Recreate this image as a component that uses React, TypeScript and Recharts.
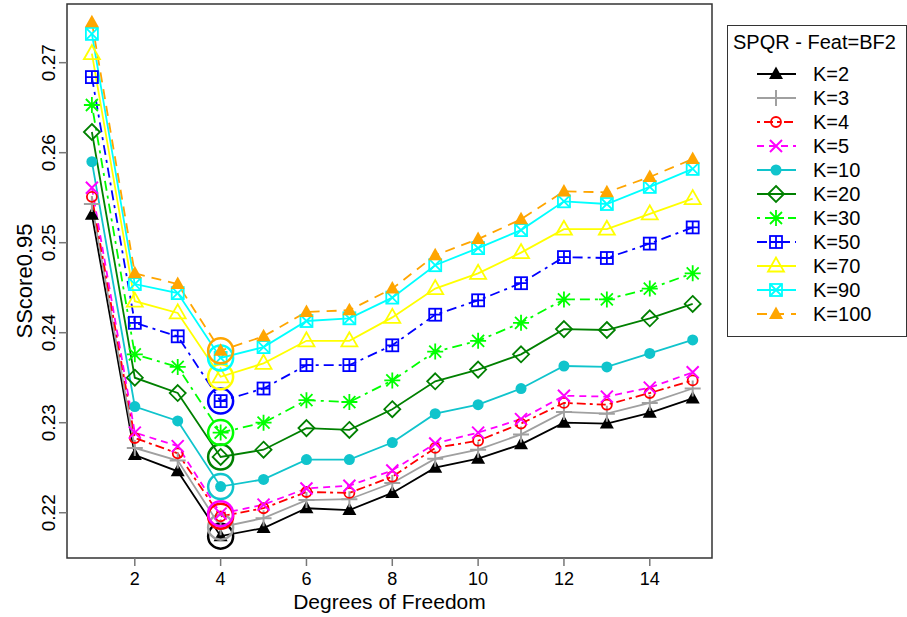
import { LineChart, Line, XAxis, YAxis, Legend, ReferenceArea } from "recharts";

const degrees = [1, 2, 3, 4, 5, 6, 7, 8, 9, 10, 11, 12, 13, 14, 15];

const k2 = [0.2531, 0.2264, 0.2246, 0.2174, 0.2183, 0.2205, 0.2203, 0.2222, 0.225, 0.226, 0.2276, 0.23, 0.2299, 0.2311, 0.2327];
const k3 = [0.2543, 0.2272, 0.2258, 0.2184, 0.2194, 0.2214, 0.2215, 0.2233, 0.226, 0.227, 0.2287, 0.2312, 0.231, 0.2322, 0.2338];
const k4 = [0.2551, 0.2283, 0.2266, 0.2196, 0.2205, 0.2223, 0.2222, 0.224, 0.2272, 0.228, 0.2299, 0.2322, 0.232, 0.2333, 0.2347];
const k5 = [0.2561, 0.2289, 0.2274, 0.2199, 0.2209, 0.2227, 0.223, 0.2247, 0.2277, 0.2289, 0.2304, 0.233, 0.2329, 0.2339, 0.2356];
const k10 = [0.259, 0.2318, 0.2302, 0.2229, 0.2237, 0.2259, 0.2259, 0.2278, 0.231, 0.232, 0.2338, 0.2363, 0.2362, 0.2377, 0.2392];
const k20 = [0.2623, 0.235, 0.2333, 0.2262, 0.227, 0.2294, 0.2292, 0.2315, 0.2346, 0.2359, 0.2376, 0.2404, 0.2403, 0.2416, 0.2432];
const k30 = [0.2653, 0.2376, 0.2362, 0.2289, 0.23, 0.2325, 0.2323, 0.2347, 0.2379, 0.2391, 0.2411, 0.2437, 0.2437, 0.2449, 0.2466];
const k50 = [0.2684, 0.2411, 0.2396, 0.2324, 0.2338, 0.2364, 0.2364, 0.2386, 0.242, 0.2436, 0.2455, 0.2484, 0.2483, 0.2499, 0.2517];
const k70 = [0.271, 0.2435, 0.2422, 0.2351, 0.2366, 0.2391, 0.2391, 0.2417, 0.2449, 0.2466, 0.2489, 0.2515, 0.2515, 0.2532, 0.2549];
const k90 = [0.2732, 0.2454, 0.2444, 0.2372, 0.2384, 0.2413, 0.2416, 0.2439, 0.2475, 0.2494, 0.2514, 0.2546, 0.2543, 0.2562, 0.2582];
const k100 = [0.2745, 0.2466, 0.2454, 0.238, 0.2396, 0.2423, 0.2425, 0.2449, 0.2486, 0.2504, 0.2526, 0.2557, 0.2556, 0.2573, 0.2593];

const seriesNames = ["K=2", "K=3", "K=4", "K=5", "K=10", "K=20", "K=30", "K=50", "K=70", "K=90", "K=100"];
const seriesValues = [k2, k3, k4, k5, k10, k20, k30, k50, k70, k90, k100];

const xTicks = [2, 4, 6, 8, 10, 12, 14];
const yTicks = [0.22, 0.23, 0.24, 0.25, 0.26, 0.27];
const xDomain: [number, number] = [0.42, 15.45];
const yDomain: [number, number] = [0.21497, 0.27652];

const legendTitle = "SPQR - Feat=BF2";
const FONT = "'Liberation Sans', Arial, sans-serif";

type Shape =
  | "triFilled"
  | "plus"
  | "circleOpen"
  | "cross"
  | "circleFilled"
  | "diamondOpen"
  | "asterisk"
  | "boxPlus"
  | "triOpen"
  | "boxTimes";

const seriesStyles: { color: string; dash?: string; shape: Shape }[] = [
  { color: "#000000", shape: "triFilled" },
  { color: "#a0a0a0", shape: "plus" },
  { color: "#ff0000", dash: "3 4 9 4", shape: "circleOpen" },
  { color: "#ff00ff", dash: "7 5", shape: "cross" },
  { color: "#10c4cc", shape: "circleFilled" },
  { color: "#008000", shape: "diamondOpen" },
  { color: "#00ff00", dash: "3 5 10 5", shape: "asterisk" },
  { color: "#0000ff", dash: "10 5 3 5", shape: "boxPlus" },
  { color: "#ffff00", shape: "triOpen" },
  { color: "#00ffff", shape: "boxTimes" },
  { color: "#ffa500", dash: "10 7", shape: "triFilled" },
];

const data = degrees.map((d, i) => {
  const row: Record<string, number> = { dof: d };
  seriesNames.forEach((name, j) => {
    row[name] = seriesValues[j][i];
  });
  return row;
});

const Marker = ({ shape, cx, cy, color }: { shape: Shape; cx: number; cy: number; color: string }) => {
  const sw = 1.8;
  switch (shape) {
    case "triFilled":
      return <polygon points={`${cx},${cy - 7.5} ${cx - 7},${cy + 5} ${cx + 7},${cy + 5}`} fill={color} />;
    case "triOpen":
      return (
        <polygon
          points={`${cx},${cy - 8.5} ${cx - 8},${cy + 5.5} ${cx + 8},${cy + 5.5}`}
          fill="none"
          stroke={color}
          strokeWidth={sw}
        />
      );
    case "plus":
      return <path d={`M${cx - 8},${cy}H${cx + 8}M${cx},${cy - 8}V${cy + 8}`} stroke={color} strokeWidth={2} />;
    case "cross":
      return (
        <path
          d={`M${cx - 6},${cy - 6}L${cx + 6},${cy + 6}M${cx - 6},${cy + 6}L${cx + 6},${cy - 6}`}
          stroke={color}
          strokeWidth={2}
        />
      );
    case "circleOpen":
      return <circle cx={cx} cy={cy} r={5} fill="none" stroke={color} strokeWidth={sw} />;
    case "circleFilled":
      return <circle cx={cx} cy={cy} r={5.5} fill={color} />;
    case "diamondOpen":
      return (
        <polygon
          points={`${cx},${cy - 8} ${cx + 8},${cy} ${cx},${cy + 8} ${cx - 8},${cy}`}
          fill="none"
          stroke={color}
          strokeWidth={sw}
        />
      );
    case "asterisk":
      return (
        <path
          d={`M${cx - 8},${cy}H${cx + 8}M${cx},${cy - 8}V${cy + 8}M${cx - 6},${cy - 6}L${cx + 6},${cy + 6}M${cx - 6},${cy + 6}L${cx + 6},${cy - 6}`}
          stroke={color}
          strokeWidth={1.8}
        />
      );
    case "boxPlus":
      return (
        <g stroke={color} strokeWidth={sw} fill="none">
          <rect x={cx - 6} y={cy - 6} width={12} height={12} />
          <path d={`M${cx - 6},${cy}H${cx + 6}M${cx},${cy - 6}V${cy + 6}`} />
        </g>
      );
    case "boxTimes":
      return (
        <g stroke={color} strokeWidth={sw} fill="none">
          <rect x={cx - 6} y={cy - 6} width={12} height={12} />
          <path d={`M${cx - 6},${cy - 6}L${cx + 6},${cy + 6}M${cx - 6},${cy + 6}L${cx + 6},${cy - 6}`} />
        </g>
      );
  }
  return null;
};

// each curve gets a large ring around its lowest point
const makeDot = (seriesIdx: number) => {
  const values = seriesValues[seriesIdx];
  const minIdx = values.indexOf(Math.min(...values));
  const { color, shape } = seriesStyles[seriesIdx];
  return (p: any) => {
    if (p.cx == null || p.cy == null) return <g key={`${seriesIdx}-${p.index}`} />;
    return (
      <g key={`${seriesIdx}-${p.index}`}>
        <Marker shape={shape} cx={p.cx} cy={p.cy} color={color} />
        {p.index === minIdx && <circle cx={p.cx} cy={p.cy} r={12.5} fill="none" stroke={color} strokeWidth={2.5} />}
      </g>
    );
  };
};

const XTick = ({ x, y, payload }: any) => (
  <text x={x} y={y + 17} textAnchor="middle" fontSize={18} fontFamily={FONT} fill="#000">
    {payload.value}
  </text>
);

const YTick = ({ x, y, payload }: any) => (
  <text
    x={x - 2}
    y={y}
    transform={`rotate(-90, ${x - 2}, ${y})`}
    textAnchor="middle"
    fontSize={19}
    fontFamily={FONT}
    fill="#000"
  >
    {Number(payload.value).toFixed(2)}
  </text>
);

const YTitle = ({ viewBox }: any) => {
  const x = viewBox.x + 25;
  const y = viewBox.y + viewBox.height / 2;
  return (
    <text x={x} y={y} transform={`rotate(-90, ${x}, ${y})`} textAnchor="middle" fontSize={22} fontFamily={FONT} fill="#000">
      SScore0.95
    </text>
  );
};

const XTitle = ({ viewBox }: any) => (
  <text
    x={viewBox.x + viewBox.width / 2}
    y={viewBox.y + 51}
    textAnchor="middle"
    fontSize={21}
    fontFamily={FONT}
    fill="#000"
  >
    Degrees of Freedom
  </text>
);

const LegendBox = () => (
  <div style={{ width: 180, height: 312, border: "1px solid #333", boxSizing: "border-box", background: "#fff" }}>
    <svg width={178} height={310}>
      <text x={5} y={23} fontSize={20} fontFamily={FONT} fill="#000">
        {legendTitle}
      </text>
      {seriesNames.map((name, i) => {
        const cy = 48 + i * 24;
        const st = seriesStyles[i];
        return (
          <g key={name}>
            <line x1={29} x2={68} y1={cy} y2={cy} stroke={st.color} strokeWidth={1.8} strokeDasharray={st.dash} />
            <Marker shape={st.shape} cx={48} cy={cy} color={st.color} />
            <text x={85} y={cy + 7} fontSize={20} fontFamily={FONT} fill="#000">
              {name}
            </text>
          </g>
        );
      })}
    </svg>
  </div>
);

export default function App() {
  return (
    <div style={{ position: "absolute", left: 0, top: 0, background: "#fff" }}>
      <LineChart width={907} height={617} data={data} margin={{ top: 4, right: 195, bottom: 0, left: 7 }}>
        <XAxis
          dataKey="dof"
          type="number"
          domain={xDomain}
          ticks={xTicks}
          allowDataOverflow
          axisLine={false}
          tickSize={8}
          tickLine={{ stroke: "#777", strokeWidth: 1.5 }}
          tick={<XTick />}
          height={59}
          label={<XTitle />}
        />
        <YAxis
          type="number"
          domain={yDomain}
          ticks={yTicks}
          allowDataOverflow
          axisLine={false}
          tickSize={8}
          tickLine={{ stroke: "#777", strokeWidth: 1.5 }}
          tick={<YTick />}
          width={60}
          label={<YTitle />}
        />
        <ReferenceArea
          x1={xDomain[0]}
          x2={xDomain[1]}
          y1={yDomain[0]}
          y2={yDomain[1]}
          fill="none"
          stroke="#333"
          strokeWidth={1.5}
          fillOpacity={0}
        />
        {seriesNames.map((name, i) => (
          <Line
            key={name}
            dataKey={name}
            type="linear"
            stroke={seriesStyles[i].color}
            strokeWidth={1.8}
            strokeDasharray={seriesStyles[i].dash}
            dot={makeDot(i)}
            activeDot={false}
            isAnimationActive={false}
          />
        ))}
        <Legend
          layout="vertical"
          align="center"
          verticalAlign="middle"
          wrapperStyle={{ left: 727, top: 25, width: 180 }}
          content={() => <LegendBox />}
        />
      </LineChart>
    </div>
  );
}
